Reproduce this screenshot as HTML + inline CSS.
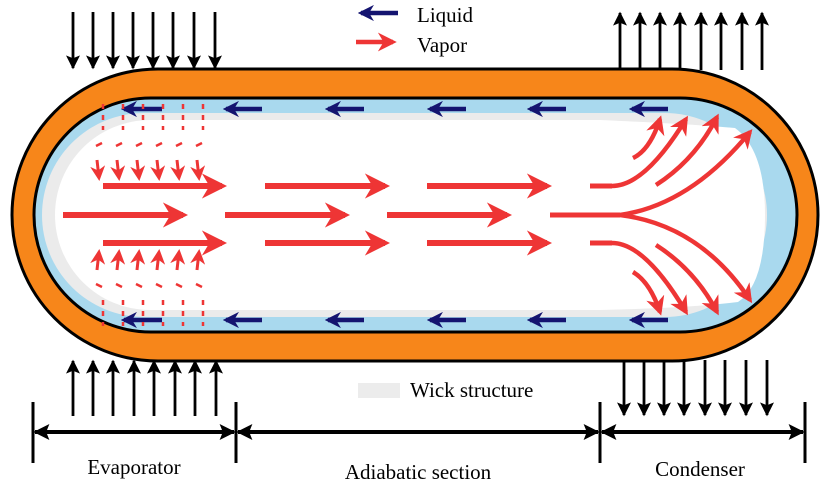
<!DOCTYPE html>
<html><head><meta charset="utf-8"><style>
html,body{margin:0;padding:0;background:#fff;width:829px;height:484px;overflow:hidden}
svg{display:block}
text{font-family:"Liberation Serif",serif;fill:#000}
</style></head><body>
<svg width="829" height="484" viewBox="0 0 829 484" xmlns="http://www.w3.org/2000/svg">
<defs>
<marker id="bk" viewBox="0 0 10 10" refX="9" refY="5" markerWidth="5" markerHeight="5" orient="auto-start-reverse" markerUnits="strokeWidth"><path d="M0,0 L10,5 L0,10 L2,5 z" fill="#000"/></marker>
<marker id="bd" viewBox="0 0 10 10" refX="9" refY="5" markerWidth="4.5" markerHeight="4" orient="auto-start-reverse" markerUnits="strokeWidth"><path d="M0,0 L10,5 L0,10 L2,5 z" fill="#000"/></marker>
<marker id="rd" viewBox="0 0 10 10" refX="8" refY="5" markerWidth="4.2" markerHeight="4.2" orient="auto" markerUnits="strokeWidth"><path d="M0,0 L10,5 L0,10 L3,5 z" fill="#ee3535"/></marker>
<marker id="rs" viewBox="0 0 10 10" refX="8" refY="5" markerWidth="5" markerHeight="5" orient="auto" markerUnits="strokeWidth"><path d="M0,0 L10,5 L0,10 L3,5 z" fill="#ee3535"/></marker>
<marker id="bl" viewBox="0 0 10 10" refX="8" refY="5" markerWidth="3.6" markerHeight="3.6" orient="auto" markerUnits="strokeWidth"><path d="M0,0 L10,5 L0,10 L3,5 z" fill="#141470"/></marker>
</defs>
<g stroke="#000" stroke-width="2.8" marker-end="url(#bk)">
<line x1="73" y1="12" x2="73" y2="68"/><line x1="93" y1="12" x2="93" y2="68"/><line x1="113" y1="12" x2="113" y2="68"/><line x1="133" y1="12" x2="133" y2="68"/><line x1="153" y1="12" x2="153" y2="68"/><line x1="173" y1="12" x2="173" y2="68"/><line x1="194" y1="12" x2="194" y2="68"/><line x1="215" y1="12" x2="215" y2="68"/>
<line x1="620" y1="70" x2="620" y2="13"/><line x1="640" y1="70" x2="640" y2="13"/><line x1="660" y1="70" x2="660" y2="13"/><line x1="680" y1="70" x2="680" y2="13"/><line x1="701" y1="70" x2="701" y2="13"/><line x1="721" y1="70" x2="721" y2="13"/><line x1="742" y1="70" x2="742" y2="13"/><line x1="762" y1="70" x2="762" y2="13"/>
<line x1="73" y1="416" x2="73" y2="361"/><line x1="93" y1="416" x2="93" y2="361"/><line x1="113" y1="416" x2="113" y2="361"/><line x1="134" y1="416" x2="134" y2="361"/><line x1="154" y1="416" x2="154" y2="361"/><line x1="175" y1="416" x2="175" y2="361"/><line x1="195" y1="416" x2="195" y2="361"/><line x1="216" y1="416" x2="216" y2="361"/>
<line x1="624" y1="360" x2="624" y2="415"/><line x1="644" y1="360" x2="644" y2="415"/><line x1="664" y1="360" x2="664" y2="415"/><line x1="684" y1="360" x2="684" y2="415"/><line x1="705" y1="360" x2="705" y2="415"/><line x1="725" y1="360" x2="725" y2="415"/><line x1="746" y1="360" x2="746" y2="415"/><line x1="767" y1="360" x2="767" y2="415"/>
</g>
<rect x="12" y="69" width="806" height="292" rx="146" fill="#f7861a" stroke="#000" stroke-width="3"/>
<rect x="34" y="98" width="763" height="234" rx="117" fill="#a9d9ee" stroke="#000" stroke-width="3"/>
<rect x="42" y="113" width="725" height="204" rx="102" fill="#ebebeb"/>
<path d="M150,120 L600,120 Q690,124 735,128 Q765,150 765,215 Q765,285 738,302 Q690,308 600,310 L150,310 A95,95 0 0 1 150,120 Z" fill="#fff"/>
<g stroke="#141470" stroke-width="4.5" marker-end="url(#bl)">
<line x1="162" y1="109" x2="124" y2="109"/><line x1="262" y1="109" x2="226" y2="109"/><line x1="364" y1="109" x2="328" y2="109"/><line x1="466" y1="109" x2="430" y2="109"/><line x1="566" y1="109" x2="530" y2="109"/><line x1="668" y1="109" x2="632" y2="109"/>
<line x1="162" y1="320" x2="124" y2="320"/><line x1="262" y1="320" x2="226" y2="320"/><line x1="364" y1="320" x2="328" y2="320"/><line x1="466" y1="320" x2="430" y2="320"/><line x1="566" y1="320" x2="530" y2="320"/><line x1="668" y1="320" x2="632" y2="320"/>
</g>
<g stroke="#ee3535" stroke-width="6" marker-end="url(#rd)">
<line x1="103" y1="186" x2="222" y2="186"/><line x1="265" y1="186" x2="385" y2="186"/><line x1="427" y1="186" x2="547" y2="186"/>
<line x1="103" y1="243" x2="222" y2="243"/><line x1="265" y1="243" x2="385" y2="243"/><line x1="427" y1="243" x2="547" y2="243"/>
<line x1="63" y1="215" x2="183" y2="215"/><line x1="225" y1="215" x2="345" y2="215"/><line x1="387" y1="215" x2="507" y2="215"/>
</g>
<g stroke="#ee3535" stroke-width="2.5" fill="none">
<g stroke-dasharray="5,6">
<path d="M103,104 V130 M123,104 V130 M143,104 V130 M163,104 V130 M183,104 V130 M203,104 V130"/>
<path d="M103,300 V326 M123,300 V326 M143,300 V326 M163,300 V326 M183,300 V326 M203,300 V326"/>
</g>
<path d="M96,146 l6,-3 M116,146 l6,-3 M136,146 l6,-3 M156,146 l6,-3 M176,146 l6,-3 M196,146 l6,-3"/>
<path d="M96,284 l6,3 M116,284 l6,3 M136,284 l6,3 M156,284 l6,3 M176,284 l6,3 M196,284 l6,3"/>
</g>
<g stroke="#ee3535" stroke-width="3" marker-end="url(#rs)">
<line x1="97" y1="160" x2="99" y2="178"/><line x1="117" y1="160" x2="119" y2="178"/><line x1="137" y1="160" x2="139" y2="178"/><line x1="157" y1="160" x2="159" y2="178"/><line x1="177" y1="160" x2="179" y2="178"/><line x1="197" y1="160" x2="199" y2="178"/>
<line x1="97" y1="270" x2="99" y2="252"/><line x1="117" y1="270" x2="119" y2="252"/><line x1="137" y1="270" x2="139" y2="252"/><line x1="157" y1="270" x2="159" y2="252"/><line x1="177" y1="270" x2="179" y2="252"/><line x1="197" y1="270" x2="199" y2="252"/>
</g>
<g stroke="#ee3535" stroke-width="5" fill="none">
<path d="M550,215 L620,215"/><path d="M590,186 L612,186"/><path d="M590,243 L612,243"/>
</g>
<g stroke="#ee3535" stroke-width="4.5" fill="none" marker-end="url(#rd)">
<path d="M612,186 Q645,186 686,119"/>
<path d="M620,215 Q690,205 750,132"/>
<path d="M656,185 Q695,160 717,117"/>
<path d="M633,158 Q650,150 660,119"/>
<path d="M612,243 Q645,243 686,312"/>
<path d="M620,215 Q700,225 750,300"/>
<path d="M656,245 Q695,270 717,312"/>
<path d="M633,272 Q650,282 660,312"/>
</g>
<line x1="398" y1="13" x2="361" y2="13" stroke="#141470" stroke-width="4.5" marker-end="url(#bl)"/>
<text x="417" y="22" font-size="21">Liquid</text>
<line x1="356" y1="42" x2="393" y2="42" stroke="#ee3535" stroke-width="4.5" marker-end="url(#rd)"/>
<text x="417" y="52" font-size="21">Vapor</text>
<rect x="358" y="383" width="42" height="15" fill="#ececec"/>
<text x="410" y="397" font-size="21">Wick structure</text>
<g stroke="#000" stroke-width="3">
<line x1="33" y1="402" x2="33" y2="463"/><line x1="236" y1="402" x2="236" y2="463"/><line x1="600" y1="402" x2="600" y2="463"/><line x1="805" y1="402" x2="805" y2="463"/>
</g>
<g stroke="#000" stroke-width="4" marker-start="url(#bd)" marker-end="url(#bd)">
<line x1="35" y1="432" x2="234" y2="432"/><line x1="238" y1="432" x2="598" y2="432"/><line x1="602" y1="432" x2="803" y2="432"/>
</g>
<text x="134" y="474" font-size="21" text-anchor="middle">Evaporator</text>
<text x="418" y="479" font-size="21" text-anchor="middle">Adiabatic section</text>
<text x="700" y="476" font-size="21" text-anchor="middle">Condenser</text>
</svg>
</body></html>
